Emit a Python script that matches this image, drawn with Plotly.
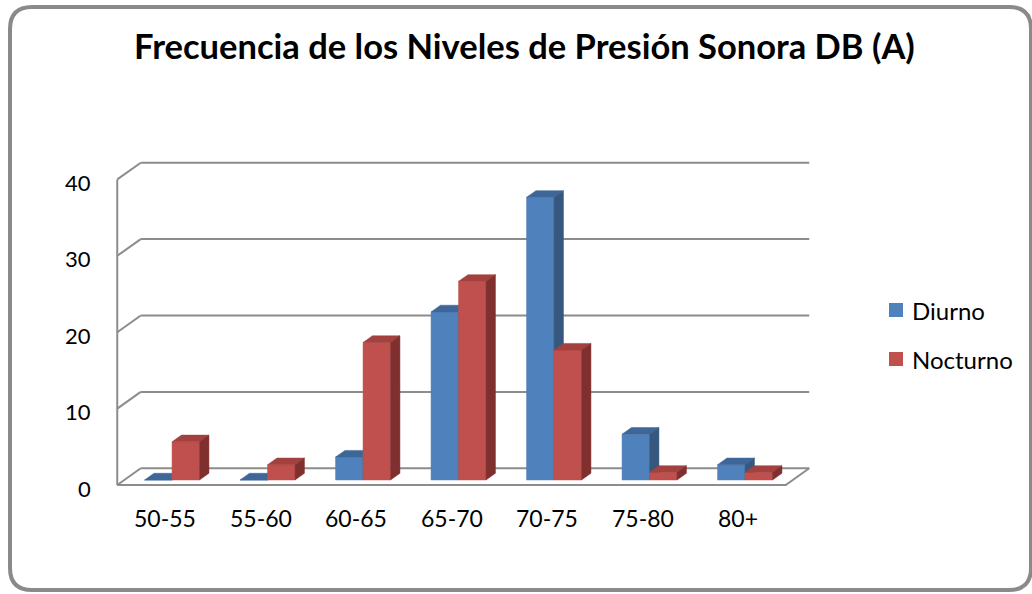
import plotly.graph_objects as go

# ---- data ----
categories = ["50-55", "55-60", "60-65", "65-70", "70-75", "75-80", "80+"]
diurno = [0, 0, 3, 22, 37, 6, 2]
nocturno = [5, 2, 18, 26, 17, 1, 1]
series_names = ["Diurno", "Nocturno"]
y_ticks = [0, 10, 20, 30, 40]
title_text = "Frecuencia de los Niveles de Presión Sonora DB (A)"

# ---- layout geometry (oblique 3D projection in data units) ----
W, H = 1032, 594
SX = 95.5          # pixels per category
SY = 7.64          # pixels per value unit
X0_PX, Y0_PX = 165, 485   # pixel position of category 0 / value 0 on the floor front edge
XR = [-X0_PX / SX, (W - X0_PX) / SX]
YR = [-(H - Y0_PX) / SY, Y0_PX / SY]

DX = 23.5 / SX     # depth offset of the full floor, in category units
DY = 16.7 / SY     # depth offset of the full floor, in value units
XL, XRt = -0.5, len(categories) - 0.5
BAR_W = 0.288      # width of one bar (category units)
D_FRONT, D_DEPTH = 0.30, 0.40   # bar position in depth (fraction of floor depth)

GRID = "#8c8c8c"
FONT = "Lato"

front_col = ["#4f81bd", "#c0504d"]
top_col = ["#3e6699", "#a3413e"]
side_col = ["#36587f", "#7f302e"]


def px2paper(x, y):
    return x / W, 1 - y / H


fig = go.Figure()

# walls and floor lines
wall_x, wall_y = [], []
for v in y_ticks:
    # back wall gridline
    wall_x += [XL + DX, XRt + DX, None]
    wall_y += [v + DY, v + DY, None]
    # left wall diagonal
    wall_x += [XL, XL + DX, None]
    wall_y += [v, v + DY, None]
# front vertical axis
wall_x += [XL, XL, None]
wall_y += [0, max(y_ticks), None]
# floor front and right edges
wall_x += [XL, XRt, XRt + DX, None]
wall_y += [0, 0, DY, None]
fig.add_trace(go.Scatter(x=wall_x, y=wall_y, mode="lines",
                         line=dict(color=GRID, width=2), hoverinfo="skip",
                         showlegend=False))

# 3D columns
for s, values in enumerate([diurno, nocturno]):
    fx, fy, tx, ty, sx_, sy_ = [], [], [], [], [], []
    bdx, bdy = D_DEPTH * DX, D_DEPTH * DY
    for i, v in enumerate(values):
        x0 = i - BAR_W + s * BAR_W + D_FRONT * DX
        y0 = D_FRONT * DY
        x1 = x0 + BAR_W
        yt = y0 + v
        fx += [x0, x1, x1, x0, x0, None]
        fy += [y0, y0, yt, yt, y0, None]
        tx += [x0, x1, x1 + bdx, x0 + bdx, x0, None]
        ty += [yt, yt, yt + bdy, yt + bdy, yt, None]
        sx_ += [x1, x1 + bdx, x1 + bdx, x1, x1, None]
        sy_ += [y0, y0 + bdy, yt + bdy, yt, y0, None]
    for xs, ys, col in [(fx, fy, front_col[s]), (tx, ty, top_col[s]), (sx_, sy_, side_col[s])]:
        fig.add_trace(go.Scatter(x=xs, y=ys, mode="lines", fill="toself",
                                 fillcolor=col, line=dict(color=col, width=0.5),
                                 hoverinfo="skip", showlegend=False))

annotations = []
# value axis labels
for v in y_ticks:
    annotations.append(dict(x=XL, y=v, xref="x", yref="y", text=str(v),
                            showarrow=False, xanchor="right", yanchor="middle",
                            xshift=-24, yshift=-3,
                            font=dict(family=FONT, size=22, color="#000")))
# category labels
for i, c in enumerate(categories):
    annotations.append(dict(x=i, y=0, xref="x", yref="y", text=c,
                            showarrow=False, xanchor="center", yanchor="middle",
                            yshift=-33,
                            font=dict(family=FONT, size=23, color="#000")))
# title
tx_, ty_ = px2paper(524, 46)
annotations.append(dict(x=tx_, y=ty_, xref="paper", yref="paper", text="<b>" + title_text + "</b>",
                        showarrow=False, xanchor="center", yanchor="middle",
                        font=dict(family=FONT, size=34.5, color="#000")))

shapes = []
# legend
for k, name in enumerate(series_names):
    cy = 310 + k * 49
    a = px2paper(889, cy - 7)
    b = px2paper(903, cy + 7)
    shapes.append(dict(type="rect", xref="paper", yref="paper",
                       x0=a[0], y0=b[1], x1=b[0], y1=a[1],
                       fillcolor=front_col[k], line=dict(width=0)))
    lx, ly = px2paper(910, cy)
    annotations.append(dict(x=lx, y=ly, xref="paper", yref="paper", text=name,
                            showarrow=False, xanchor="left", yanchor="middle",
                            font=dict(family=FONT, size=24, color="#000")))

# rounded outer frame
bx0, by0, bx1, by1, r = 10, 7, 1031, 590, 22


def P(x, y):
    px, py = px2paper(x, y)
    return f"{px:.5f},{py:.5f}"


path = (f"M {P(bx0 + r, by0)} L {P(bx1 - r, by0)} Q {P(bx1, by0)} {P(bx1, by0 + r)} "
        f"L {P(bx1, by1 - r)} Q {P(bx1, by1)} {P(bx1 - r, by1)} "
        f"L {P(bx0 + r, by1)} Q {P(bx0, by1)} {P(bx0, by1 - r)} "
        f"L {P(bx0, by0 + r)} Q {P(bx0, by0)} {P(bx0 + r, by0)} Z")
shapes.append(dict(type="path", xref="paper", yref="paper", path=path,
                   line=dict(color="#8a8a8a", width=4)))

fig.update_layout(
    width=W, height=H,
    margin=dict(l=0, r=0, t=0, b=0),
    paper_bgcolor="white", plot_bgcolor="white",
    xaxis=dict(range=XR, visible=False, fixedrange=True),
    yaxis=dict(range=YR, visible=False, fixedrange=True),
    annotations=annotations, shapes=shapes, showlegend=False,
)

fig.write_html("out.html")
